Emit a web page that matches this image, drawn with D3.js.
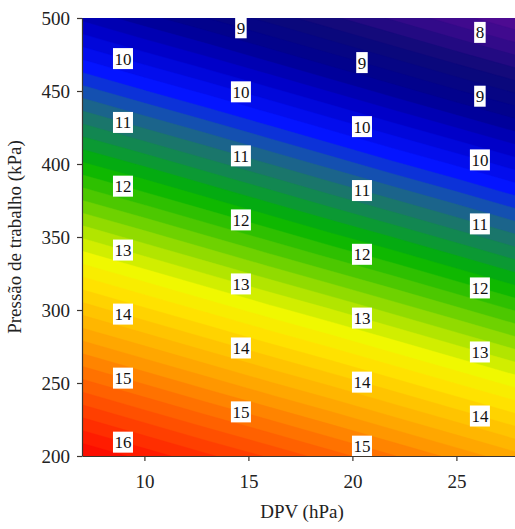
<!DOCTYPE html>
<html>
<head>
<meta charset="utf-8">
<script src="https://cdn.jsdelivr.net/npm/d3@7/dist/d3.min.js"></script>
<style>
  html, body { margin: 0; padding: 0; background: #fff; }
  svg { display: block; }
  text { font-family: "Liberation Serif", "Times New Roman", serif; }
</style>
</head>
<body>
<svg id="chart" width="515" height="529"></svg>
<script>
// Grid of the response surface: columns follow DPV (hPa), rows follow working pressure (kPa)
const dpv = [7, 10, 13, 16, 19, 22, 25, 28];
const pressure = [500, 450, 400, 350, 300, 250, 200];
const surface = [
  [9.55, 9.27, 9.00, 8.72, 8.44, 8.16, 7.88, 7.60],
  [10.69, 10.41, 10.14, 9.86, 9.58, 9.30, 9.02, 8.75],
  [11.83, 11.56, 11.28, 11.00, 10.72, 10.44, 10.17, 9.89],
  [12.98, 12.70, 12.42, 12.14, 11.86, 11.59, 11.31, 11.03],
  [14.12, 13.84, 13.56, 13.28, 13.01, 12.73, 12.45, 12.17],
  [15.26, 14.98, 14.70, 14.42, 14.15, 13.87, 13.59, 13.31],
  [16.40, 16.12, 15.84, 15.57, 15.29, 15.01, 14.73, 14.45]
];

// Axis ticks
const xTicks = [10, 15, 20, 25];
const yTicks = [200, 250, 300, 350, 400, 450, 500];

// Contour labels: DPV column where each set of labels sits, and the levels shown
const labelColumns = [8.97, 14.64, 20.46, 26.13];
const labelLevels = [
  [10, 11, 12, 13, 14, 15, 16],
  [9, 10, 11, 12, 13, 14, 15],
  [9, 10, 11, 12, 13, 14, 15],
  [8, 9, 10, 11, 12, 13, 14]
];

// Rainbow colour map
const colorStops = [7.5, 8.0, 8.6, 9.2, 9.7, 10.3, 10.7, 11.0, 11.4, 11.8, 12.3, 12.8, 13.3, 13.7, 14.1, 14.6, 15.1, 15.6, 16.1, 16.5];
const colorValues = ["#5a0c96", "#3a0a8c", "#0c0a78", "#000090", "#0000c8", "#0414ff", "#1450b0", "#1e6e78", "#0e9044", "#00b400", "#4cc800", "#a2e000", "#f0f800", "#ffe200", "#ffc400", "#ffa000", "#ff7200", "#ff4800", "#ff1c00", "#f80000"];

const svg = d3.select("#chart");
const margin = { left: 82, top: 18, bottom: 456 };
const x = d3.scaleLinear().domain([7, 28]).range([margin.left, margin.left + 21 * 20.8]);
const y = d3.scaleLinear().domain([200, 500]).range([margin.bottom, margin.top]);

const color = d3.scaleLinear().domain(colorStops).range(colorValues).interpolate(d3.interpolateRgb).clamp(true);

// Flatten grid for d3.contours (row-major, top row first)
const nx = dpv.length, ny = pressure.length;
const values = surface.flat();
const step = 0.2;
const thresholds = d3.range(7.4, 16.6 + 1e-9, step).map(v => +v.toFixed(2));
const contours = d3.contours().size([nx, ny]).thresholds(thresholds)(values);

// Grid coordinates -> data -> pixels (grid value i lies at i + 0.5)
const gx = g => dpv[0] + (g - 0.5) * (dpv[1] - dpv[0]);
const gy = g => pressure[0] + (g - 0.5) * (pressure[1] - pressure[0]);
const path = d3.geoPath(d3.geoTransform({
  point(px, py) { this.stream.point(x(gx(px)), y(gy(py))); }
}));

svg.append("clipPath").attr("id", "plot-clip")
  .append("rect")
  .attr("x", x(7)).attr("y", y(500))
  .attr("width", x(28) - x(7)).attr("height", y(200) - y(500));

const plot = svg.append("g").attr("clip-path", "url(#plot-clip)");
plot.selectAll("path.band")
  .data(contours)
  .join("path")
  .attr("class", "band")
  .attr("d", path)
  .attr("fill", d => color(d.value + step / 2))
  .attr("stroke", d => color(d.value + step / 2))
  .attr("stroke-width", 0.4);

// Find the pressure where the surface reaches a level at a given DPV
function valueAt(d, row) {
  const r = surface[row];
  let i = d3.bisectRight(dpv, d) - 1;
  i = Math.max(0, Math.min(nx - 2, i));
  const t = (d - dpv[i]) / (dpv[i + 1] - dpv[i]);
  return r[i] + t * (r[i + 1] - r[i]);
}
function pressureAt(d, level) {
  for (let j = 0; j < ny - 1; j++) {
    const a = valueAt(d, j), b = valueAt(d, j + 1);
    if ((level - a) * (level - b) <= 0 && a !== b) {
      const t = (level - a) / (b - a);
      return pressure[j] + t * (pressure[j + 1] - pressure[j]);
    }
  }
  return null;
}

const labels = [];
labelColumns.forEach((d, ci) => {
  labelLevels[ci].forEach(level => {
    const p = pressureAt(d, level);
    if (p !== null) labels.push({ d, p, level });
  });
});

const lab = plot.selectAll("g.clabel").data(labels).join("g")
  .attr("class", "clabel")
  .attr("transform", l => `translate(${x(l.d)},${y(l.p)})`);
lab.append("rect")
  .attr("x", l => -(String(l.level).length * 8.5 + 3) / 2)
  .attr("y", -10.5)
  .attr("width", l => String(l.level).length * 8.5 + 3)
  .attr("height", 21)
  .attr("fill", "#fff");
lab.append("text")
  .attr("text-anchor", "middle")
  .attr("dy", "0.35em")
  .attr("font-size", 17)
  .attr("fill", "#111")
  .text(l => l.level);

// Axes
const axisColor = "#3c3630";
const gxAxis = svg.append("g")
  .attr("transform", `translate(0,${margin.bottom})`)
  .call(d3.axisBottom(x).tickValues(xTicks).tickSize(5).tickSizeOuter(0).tickPadding(14));
const gyAxis = svg.append("g")
  .attr("transform", `translate(${margin.left},0)`)
  .call(d3.axisLeft(y).tickValues(yTicks).tickSize(5).tickSizeOuter(0).tickPadding(7));
[gxAxis, gyAxis].forEach(g => {
  g.select(".domain").attr("stroke", axisColor).attr("stroke-width", 1.2);
  g.selectAll(".tick line").attr("stroke", axisColor).attr("stroke-width", 1.2);
  g.selectAll(".tick text")
    .attr("font-family", "'Liberation Serif', 'Times New Roman', serif")
    .attr("font-size", 19)
    .attr("fill", "#222");
});

svg.append("text")
  .attr("x", 302).attr("y", 518)
  .attr("text-anchor", "middle")
  .attr("font-size", 19)
  .attr("fill", "#222")
  .text("DPV (hPa)");

svg.append("text")
  .attr("transform", `translate(21,${(margin.top + margin.bottom) / 2}) rotate(-90)`)
  .attr("text-anchor", "middle")
  .attr("font-size", 19)
  .attr("fill", "#222")
  .text("Pressão de trabalho (kPa)");
</script>
</body>
</html>
